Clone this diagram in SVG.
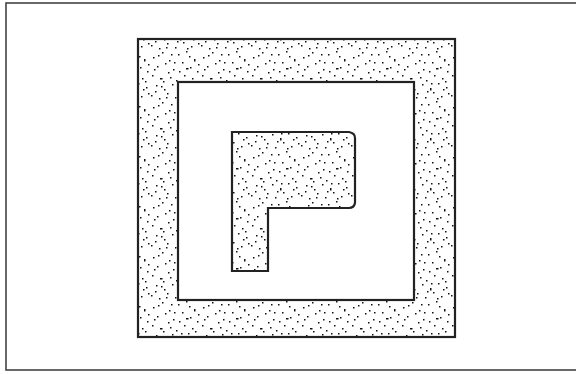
<svg xmlns="http://www.w3.org/2000/svg" width="576" height="374" viewBox="0 0 576 374">
<defs>
<pattern id="stip" patternUnits="userSpaceOnUse" width="50" height="50">
<path fill="#111" d="M3 7h1.5v1.5h-1.5z M12 2h1.5v1.5h-1.5z M19 10h1.5v1.5h-1.5z M28 4h1.5v1.5h-1.5z M36 1h1.5v1.5h-1.5z M44 9h1.5v2.5h-1.5z M7 16h1.5v1.5h-1.5z M15 13h1.5v1.5h-1.5z M23 19h1.5v1.5h-1.5z M32 12h1.5v1.5h-1.5z M40 17h1.5v1.5h-1.5z M47 21h1.5v1.5h-1.5z M2 25h1.5v1.5h-1.5z M10 28h2.5v1.5h-2.5z M18 22h1.5v1.5h-1.5z M26 30h1.5v1.5h-1.5z M34 25h1.5v1.5h-1.5z M42 28h1.5v1.5h-1.5z M6 35h1.5v1.5h-1.5z M14 39h1.5v1.5h-1.5z M22 34h1.5v1.5h-1.5z M30 38h1.5v2.5h-1.5z M38 33h1.5v1.5h-1.5z M46 37h1.5v1.5h-1.5z M1 45h1.5v1.5h-1.5z M9 48h1.5v1.5h-1.5z M17 43h1.5v1.5h-1.5z M25 47h1.5v1.5h-1.5z M33 42h1.5v1.5h-1.5z M41 46h1.5v1.5h-1.5z M48 43h1.5v1.5h-1.5z M13 31h1.5v1.5h-1.5z M29 21h1.5v1.5h-1.5z M37 48h1.5v1.5h-1.5z M21 4h1.5v1.5h-1.5z M45 31h1.5v1.5h-1.5z M5 41h1.5v1.5h-1.5z M8 5h1.5v1.5h-1.5z M24 12h1.5v1.5h-1.5z M39 6h1.5v1.5h-1.5z M4 19h1.5v1.5h-1.5z M20 27h1.5v1.5h-1.5z M36 18h2.5v1.5h-2.5z M48 14h1.5v1.5h-1.5z M11 36h1.5v1.5h-1.5z M27 41h1.5v1.5h-1.5z M43 39h1.5v1.5h-1.5z M16 47h1.5v1.5h-1.5z M31 33h1.5v1.5h-1.5z"/>
</pattern>
<style>
.edge{fill:none;stroke:#222;stroke-width:2.2}
</style>
</defs>
<rect width="576" height="374" fill="#fff"/>
<rect id="frame" x="6" y="3" width="620" height="367" fill="none" stroke="#444" stroke-width="1.6"/>
<g id="outer-ring">
<path d="M138 39H455V337H138Z M178 82V300H414V82Z" fill="url(#stip)" fill-rule="evenodd"/>
<rect class="edge" x="138" y="39" width="317" height="298"/>
<rect class="edge" x="178" y="82" width="236" height="218"/>
</g>
<g id="p-shape">
<path class="edge" d="M232 132H349Q355 133 355 138V203Q354 208 349 208H268V271H232Z" style="fill:url(#stip)"/>
</g>
</svg>
